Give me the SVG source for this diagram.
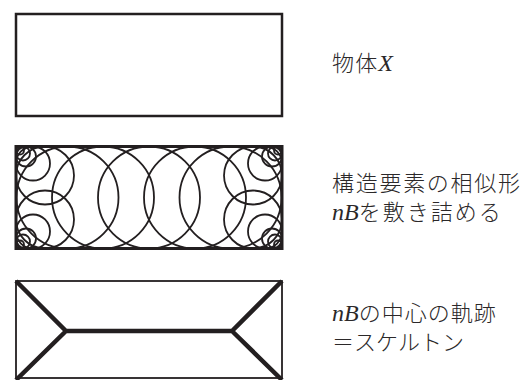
<svg xmlns="http://www.w3.org/2000/svg" width="529" height="380" viewBox="0 0 529 380">
<style>
.box{fill:none;stroke:#231f20;stroke-width:2.5}
.c{fill:none;stroke:#231f20;stroke-width:1.8}
.sk{fill:none;stroke:#231f20;stroke-width:4.5;stroke-linejoin:miter}
.t{font-family:"Noto Sans CJK JP","Noto Sans",sans-serif;font-size:22px;font-weight:300;fill:#2b2829}
.i{font-family:"Liberation Serif",serif;font-style:italic;font-size:24px;font-weight:400;letter-spacing:0}
</style>
<rect width="529" height="380" fill="#fff"/>
<g id="object-x">
<rect class="box" x="16" y="14" width="266" height="102"/>
<text class="t" x="332" y="71" textLength="61" lengthAdjust="spacing">物体<tspan class="i">X</tspan></text>
</g>
<g id="tiling">
<rect class="box" x="16" y="146.5" width="266" height="102" style="stroke-width:3"/>
<g id="circles">
<circle class="c" cx="67.5" cy="197.5" r="51"/>
<circle class="c" cx="103" cy="197.5" r="51"/>
<circle class="c" cx="149" cy="197.5" r="51"/>
<circle class="c" cx="195" cy="197.5" r="51"/>
<circle class="c" cx="230.5" cy="197.5" r="51"/>
<circle class="c" cx="20" cy="150.5" r="4"/>
<circle class="c" cx="23" cy="153.5" r="7"/>
<circle class="c" cx="26" cy="156.5" r="10"/>
<circle class="c" cx="33" cy="163.5" r="17"/>
<circle class="c" cx="45" cy="175.5" r="29"/>
<circle class="c" cx="20" cy="244.5" r="4"/>
<circle class="c" cx="23" cy="241.5" r="7"/>
<circle class="c" cx="26" cy="238.5" r="10"/>
<circle class="c" cx="33" cy="231.5" r="17"/>
<circle class="c" cx="45" cy="219.5" r="29"/>
<circle class="c" cx="278" cy="150.5" r="4"/>
<circle class="c" cx="275" cy="153.5" r="7"/>
<circle class="c" cx="272" cy="156.5" r="10"/>
<circle class="c" cx="265" cy="163.5" r="17"/>
<circle class="c" cx="253" cy="175.5" r="29"/>
<circle class="c" cx="278" cy="244.5" r="4"/>
<circle class="c" cx="275" cy="241.5" r="7"/>
<circle class="c" cx="272" cy="238.5" r="10"/>
<circle class="c" cx="265" cy="231.5" r="17"/>
<circle class="c" cx="253" cy="219.5" r="29"/>
</g>
<text class="t" x="332" y="191" textLength="188" lengthAdjust="spacing">構造要素の相似形</text>
<text class="t" x="332" y="220"><tspan class="i">nB</tspan><tspan style="letter-spacing:2px">を敷き詰める</tspan></text>
</g>
<g id="skeleton">
<rect x="16" y="281" width="266" height="97" fill="none" stroke="#231f20" stroke-width="1.8"/>
<path class="sk" d="M16,281 L66,331 L232,331 L282,281 M16,380 L66,331 M232,331 L282,380"/>
<text class="t" x="332" y="321"><tspan class="i">nB</tspan><tspan style="letter-spacing:1px">の中心の軌跡</tspan></text>
<text class="t" x="332" y="350">＝スケルトン</text>
</g>
</svg>
